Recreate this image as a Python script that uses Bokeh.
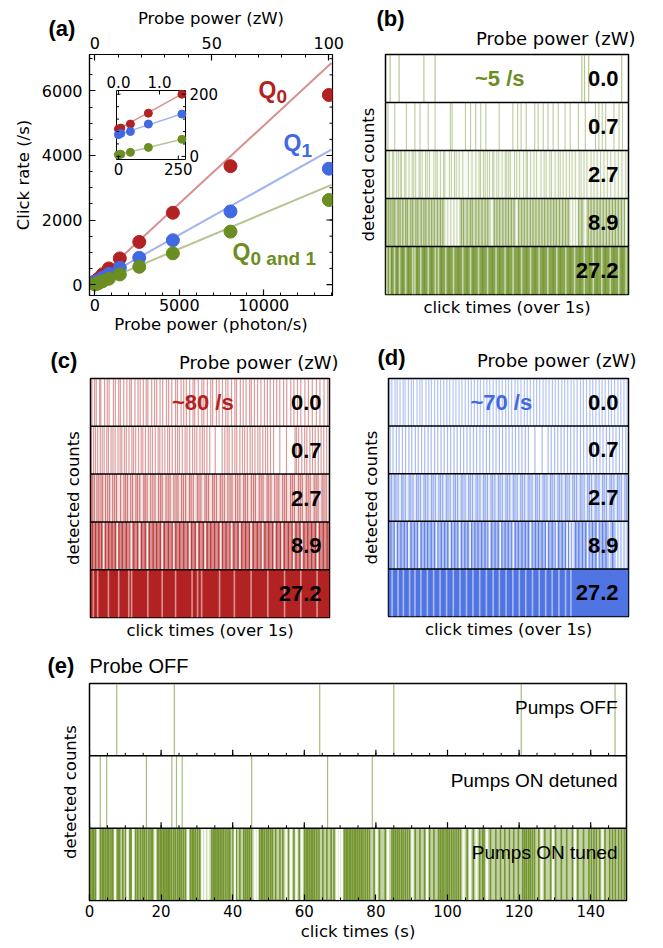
import numpy as np
from bokeh.plotting import figure
from bokeh.layouts import column, row
from bokeh.models import Range1d, LinearAxis, FixedTicker, Span, Label
from bokeh.core.properties import value
from bokeh.embed import file_html
from bokeh.resources import INLINE

RED, BLUE, GREEN = "#B22222", "#4169E1", "#6B8E23"
DJ = "DejaVu Sans"
AR = "Liberation Sans"
PAGE_MARGIN = 8  # bokeh's page template has no body margin; reproduce the reference's 8px

# ---------------- (a) click rate vs probe power ----------------
photon_rate = [0, 10, 50, 125, 265, 470, 830, 1480, 2630, 4620, 8030, 13850]
q0_rate = [88, 91, 104, 139, 200, 320, 500, 810, 1320, 2225, 3670, 5875]
q1_rate = [70, 74, 80, 104, 136, 215, 330, 520, 830, 1373, 2265, 3590]
q01_rate = [5, 7, 13, 29, 55, 105, 180, 312, 550, 967, 1640, 2620]
fit_x = [0, 14000]
q0_fit = [90, 6865]
q1_fit = [75, 4180]
q01_fit = [6, 3090]
inset_fit_x = [0, 270]
q0_inset_fit = [88, 203]
q1_inset_fit = [70, 138]
q01_inset_fit = [5, 56]
a_xticks = [0, 5000, 10000]
a_yticks = [0, 2000, 4000, 6000]
a_zw_ticks = [0, 50, 100]
inset_xticks = [0, 250]
inset_yticks = [0, 200]
inset_zw_ticks = [0.0, 1.0]

# ---------------- (b)(c)(d) click times (per-mille of 1 s) ----------------
probe_zw_labels = ["0.0", "0.7", "2.7", "8.9", "27.2"]

b_clicks = [
    [19, 56, 158, 204, 808, 819, 836, 972],
    [10, 38, 86, 121, 142, 176, 204, 267, 274, 329, 350, 371, 392, 413, 468, 524, 544, 558, 579, 614,
     628, 649, 669, 690, 711, 739, 760, 794, 822, 864, 878, 892, 906, 940, 961, 975],
    [4, 11, 17, 29, 34, 46, 53, 61, 66, 79, 84, 97, 110, 116, 124, 138, 143, 151, 165, 172, 181, 199,
     207, 213, 226, 239, 244, 263, 271, 284, 291, 303, 318, 341, 356, 372, 385, 391, 403, 410, 419, 428,
     441, 446, 458, 466, 480, 493, 499, 507, 514, 531, 540, 552, 568, 579, 584, 597, 611, 622, 640, 653,
     661, 676, 683, 698, 711, 719, 731, 744, 757, 768, 781, 797, 805, 817, 829, 846, 858, 871, 885, 899,
     913, 927, 944, 958, 973, 989],
    [5, 13, 22, 31, 38, 52, 60, 71, 83, 90, 104, 112, 125, 133, 147, 158, 166, 179, 190, 201, 214, 226,
     236, 312, 321, 336, 349, 357, 372, 384, 397, 410, 421, 448, 459, 470, 483, 495, 506, 518, 529, 548,
     560, 571, 583, 596, 607, 619, 632, 644, 655, 668, 680, 692, 703, 716, 729, 741, 752, 795, 808, 834,
     846, 858, 871, 883, 896, 909, 921, 934, 946, 958, 971, 984],
    [10, 25, 48, 70, 95, 130, 160, 190, 230, 262, 300, 335, 362, 400, 440, 470, 505, 548, 580, 615, 650,
     690, 720, 760, 800, 840, 870, 905, 940, 975],
]
b_gaps = [
    [], [], [],
    [250, 262, 275, 288, 300, 438, 540, 764, 776, 788, 822, 990],
    [6, 18, 37, 58, 83, 112, 121, 145, 176, 205, 218, 248, 280, 318, 350, 383, 420, 455, 492, 525, 560,
     597, 632, 668, 705, 742, 778, 818, 855, 890, 925, 960, 990],
]

c_clicks = [
    [6, 17, 24, 38, 43, 59, 70, 78, 96, 104, 118, 125, 139, 152, 164, 171, 186, 199, 208, 221, 233, 240,
     256, 268, 277, 291, 302, 318, 327, 340, 356, 364, 379, 390, 401, 415, 429, 436, 451, 466, 474, 489,
     503, 511, 527, 538, 552, 566, 575, 590, 604, 611, 627, 639, 651, 666, 673, 686, 699, 713, 728, 740,
     752, 766, 779, 792, 808, 821, 838, 851, 866, 880, 897, 912, 928, 945, 960, 977, 992],
    [4, 13, 21, 30, 41, 49, 57, 68, 75, 86, 94, 103, 115, 124, 131, 142, 150, 161, 173, 180, 189, 201,
     212, 219, 230, 242, 250, 259, 271, 283, 290, 300, 311, 323, 331, 342, 355, 364, 372, 384, 396, 404,
     415, 427, 436, 445, 458, 468, 476, 487, 499, 522, 551, 562, 572, 580, 593, 604, 612, 625, 636, 645,
     656, 668, 677, 688, 700, 709, 721, 732, 741, 753, 766, 792, 820, 856, 862, 871, 884, 896, 905, 918,
     929, 940, 953, 965, 976, 988],
    [3, 9, 16, 27, 35, 44, 51, 63, 72, 80, 93, 101, 109, 126, 140, 147, 155, 168, 176, 190, 197, 206,
     223, 229, 237, 252, 261, 270, 285, 293, 300, 316, 325, 333, 349, 358, 366, 381, 389, 398, 414, 421,
     430, 447, 454, 462, 479, 486, 494, 511, 518, 527, 543, 551, 560, 575, 584, 592, 607, 616, 625, 641,
     648, 657, 673, 682, 690, 706, 714, 722, 739, 746, 755, 771, 780, 788, 804, 812, 820, 837, 845, 853,
     870, 878, 886, 903, 911, 919, 936, 944, 952, 969, 977, 986],
    [8, 21, 35, 47, 62, 76, 90, 104, 119, 133, 150, 166, 181, 197, 214, 229, 246, 262, 277, 292, 309,
     326, 342, 357, 373, 390, 407, 423, 438, 455, 472, 488, 503, 519, 536, 552, 567, 584, 600, 617, 633,
     649, 665, 681, 698, 714, 730, 746, 762, 779, 795, 811, 828, 844, 860, 876, 893, 909, 925, 941, 958,
     974, 990],
    [],
]
c_gaps = [
    [], [], [],
    [55, 112, 170, 205, 238, 300, 348, 415, 446, 480, 545, 590, 625, 672, 720, 770, 802, 850, 884, 950],
    [12, 30, 75, 118, 160, 172, 240, 300, 356, 425, 448, 465, 540, 602, 672, 742, 812, 880, 948],
]

d_clicks = [
    [5, 14, 27, 36, 48, 61, 69, 83, 95, 104, 119, 131, 140, 156, 168, 179, 192, 205, 217, 230, 243, 255,
     269, 281, 294, 306, 320, 333, 345, 358, 371, 383, 397, 410, 422, 436, 449, 461, 474, 488, 500, 513,
     527, 539, 552, 566, 578, 591, 605, 617, 630, 644, 656, 669, 683, 695, 708, 722, 734, 747, 761, 773,
     786, 800, 812, 825, 839, 851, 864, 878, 890, 903, 917, 929, 942, 956, 968, 981, 994],
    [7, 19, 33, 44, 58, 71, 85, 97, 112, 124, 138, 151, 165, 178, 192, 205, 219, 232, 246, 259, 273, 286,
     300, 313, 327, 340, 354, 367, 381, 394, 408, 421, 435, 448, 462, 475, 489, 502, 516, 529, 543, 556,
     570, 583, 610, 640, 665, 678, 692, 705, 719, 732, 746, 759, 773, 786, 800, 813, 827, 840, 854, 867,
     881, 894, 908, 921, 935, 948, 962, 975, 989],
    [6, 13, 24, 31, 40, 55, 61, 70, 86, 93, 102, 117, 124, 133, 148, 155, 164, 179, 186, 195, 210, 217,
     226, 241, 248, 257, 272, 279, 288, 303, 310, 319, 334, 341, 350, 365, 372, 381, 396, 403, 412, 427,
     434, 443, 458, 465, 474, 489, 496, 505, 520, 527, 536, 551, 558, 567, 582, 589, 598, 613, 620, 629,
     644, 651, 660, 675, 682, 691, 706, 713, 722, 737, 744, 753, 768, 775, 784, 799, 806, 815, 830, 837,
     846, 861, 868, 877, 892, 899, 908, 923, 930, 939, 954, 961, 970, 985, 992],
    [10, 24, 37, 52, 66, 79, 94, 108, 121, 136, 150, 163, 178, 192, 205, 220, 234, 247, 262, 276, 289,
     304, 318, 331, 346, 360, 373, 388, 402, 415, 430, 444, 457, 472, 486, 499, 514, 528, 541, 556, 570,
     583, 598, 612, 625, 640, 654, 667, 682, 696, 709, 724, 738, 751, 766, 780, 793, 808, 822, 835, 850,
     864, 877, 892, 906, 919, 934],
    [],
]
d_gaps = [
    [], [], [],
    [30, 85, 128, 200, 255, 296, 340, 420, 466, 520, 592, 660, 700, 744, 756, 768, 830, 872, 920, 950,
     962, 975, 988],
    [15, 40, 62, 88, 110, 135, 162, 188, 215, 242, 270, 298, 325, 352, 380, 408, 436, 462, 490, 518, 545,
     572, 600, 628, 655, 682, 710, 738, 760],
]

# ---------------- (e) click times (s), probe off ----------------
e_row_labels = ["Pumps OFF", "Pumps ON detuned", "Pumps ON tuned"]
e_clicks = [
    [7.6, 23.7, 64.3, 85.0, 120.6, 146.8],
    [3.0, 4.8, 15.9, 23.0, 24.3, 25.9, 45.3, 66.5, 79.0],
    [0.3, 0.8, 1.2, 1.7, 3.1, 3.6, 4.0, 4.5, 5.0, 5.4, 6.0, 6.5, 7.6, 8.0, 8.4, 9.3, 10.1, 11.3, 11.6,
     12.9, 13.5, 14.2, 14.8, 15.3, 15.9, 16.6, 17.2, 17.6, 18.9, 19.3, 19.8, 20.2, 20.7, 21.1, 21.6, 22.0,
     22.4, 22.9, 23.5, 24.0, 24.6, 25.1, 25.6, 26.2, 26.8, 28.2, 28.7, 29.1, 29.6, 30.2, 30.8, 34.2, 34.7,
     35.1, 35.6, 36.0, 36.5, 37.0, 37.5, 38.1, 38.7, 39.2, 40.1, 41.0, 42.0, 43.1, 43.6, 44.1, 44.6, 45.2,
     47.5, 48.0, 48.4, 48.9, 49.5, 50.0, 50.6, 51.1, 52.0, 53.2, 54.0, 55.5, 57.1, 58.6, 60.1, 60.6, 61.0,
     61.5, 62.0, 62.4, 62.9, 63.5, 64.1, 65.2, 66.3, 67.5, 68.3, 71.2, 71.7, 72.1, 72.6, 73.0, 73.5, 74.0,
     74.4, 74.9, 75.4, 75.9, 76.4, 77.0, 77.6, 78.2, 79.5, 81.0, 82.6, 84.5, 85.0, 85.5, 86.0, 86.5, 87.1,
     87.6, 88.2, 88.8, 89.4, 91.0, 92.3, 93.6, 95.0, 96.2, 97.5, 98.0, 98.5, 99.0, 99.6, 100.1, 100.6,
     101.2, 101.8, 102.4, 103.0, 103.6, 105.5, 107.2, 109.0, 109.8, 110.2, 112.0, 113.5, 114.8, 116.0,
     117.3, 118.5, 119.8, 121.0, 121.5, 122.0, 122.6, 123.1, 123.7, 124.3, 125.5, 127.2, 128.8, 130.2,
     131.8, 133.3, 134.9, 136.4, 138.0, 139.5, 140.2, 140.9, 141.6, 142.5, 144.0, 145.3, 146.1, 146.9,
     147.8, 148.6, 149.4],
]
e_gaps = [
    [], [],
    [2.3, 7.2, 10.6, 12.2, 18.4, 27.5, 31.5, 32.3, 33.2, 40.6, 46.2, 46.9, 55.0, 56.3, 57.8, 59.3, 69.1,
     69.8, 70.5, 80.2, 83.4, 90.2, 94.3, 104.5, 106.3, 108.1, 111.0, 126.3, 129.5, 135.6, 143.3],
]
e_xticks = [0, 20, 40, 60, 80, 100, 120, 140]
e_window = (0, 150)


def style_axis(ax, tick_px, label_px):
    ax.major_label_text_font = DJ
    ax.major_label_text_font_size = f"{tick_px}px"
    ax.major_label_text_color = "black"
    ax.axis_label_text_font = DJ
    ax.axis_label_text_font_size = f"{label_px}px"
    ax.axis_label_text_font_style = "normal"
    ax.axis_label_text_color = "black"
    ax.major_tick_in = 6
    ax.major_tick_out = 0
    ax.minor_tick_in = 3
    ax.minor_tick_out = 0
    ax.axis_line_width = 1.2
    ax.major_tick_line_width = 1.2
    ax.minor_tick_line_width = 1.0
    ax.axis_line_color = "black"
    ax.major_tick_line_color = "black"
    ax.minor_tick_line_color = "black"


def hide_axis(ax, label, standoff, label_px=16.5):
    ax.ticker = FixedTicker(ticks=[])
    ax.major_label_text_font_size = "0px"
    ax.major_tick_line_color = None
    ax.minor_tick_line_color = None
    ax.axis_line_color = None
    ax.major_label_standoff = 0
    ax.axis_label = label
    ax.axis_label_standoff = standoff
    ax.axis_label_text_font = DJ
    ax.axis_label_text_font_size = f"{label_px}px"
    ax.axis_label_text_font_style = "normal"
    ax.axis_label_text_color = "black"


def text_label(p, x, y, text, size, font=AR, bold=False, color="black", align="left", **kw):
    p.add_layout(Label(x=x, y=y, text=text, text_font=font, text_font_size=f"{size}px",
                       text_font_style="bold" if bold else "normal", text_color=color,
                       text_align=align, text_baseline="middle", **kw))


def outer_text(p, x, y, text, size, font=AR, bold=False, align="left", dx=0, dy=0):
    # text outside the frame: a text glyph on the overlay level (not clipped to the frame)
    p.text(x=[x], y=[y], text=[text], text_font=value(font), text_font_size=value(f"{size}px"),
           text_font_style="bold" if bold else "normal", text_color="black", text_align=align,
           text_baseline="middle", x_offset=dx, y_offset=dy, level="overlay")


# ================= panel (a) =================
FW_A, FH_A = 243, 241
XR_A, YR_A = (-314, 14065), (-340, 7130)
pa = figure(frame_width=FW_A, frame_height=FH_A, min_border_left=81 + PAGE_MARGIN, min_border_right=16,
            min_border_top=45 + PAGE_MARGIN, min_border_bottom=46, x_range=Range1d(*XR_A),
            y_range=Range1d(*YR_A), output_backend="svg", toolbar_location=None, title=None)
pa.grid.visible = False
pa.outline_line_color = "black"
pa.outline_line_width = 1.2

# inset placement (pixels inside frame a) -> extra ranges
inset_xlim = (-8, 280)
inset_ylim = (-10, 212)
IN_L, IN_T, IN_W, IN_H = 27, 36, 69, 69
ixpp = (inset_xlim[1] - inset_xlim[0]) / IN_W
iypp = (inset_ylim[1] - inset_ylim[0]) / IN_H
ix0 = inset_xlim[0] - IN_L * ixpp
iytop = inset_ylim[1] + IN_T * iypp
izw_pp = 1 / 41.0
izw0 = -29 * izw_pp
pa.extra_x_ranges = {
    "zw": Range1d(-2.27, 101.6),
    "ix": Range1d(ix0, ix0 + FW_A * ixpp),
    "izw": Range1d(izw0, izw0 + FW_A * izw_pp),
}
pa.extra_y_ranges = {"iy": Range1d(iytop - FH_A * iypp, iytop)}

a_yminor = list(range(0, 7001, 500))
pa.xaxis.ticker = FixedTicker(ticks=a_xticks, minor_ticks=list(range(0, 14001, 1000)))
pa.xaxis.axis_label = "Probe power (photon/s)"
pa.yaxis.ticker = FixedTicker(ticks=a_yticks, minor_ticks=a_yminor)
pa.yaxis.axis_label = "Click rate (/s)"
style_axis(pa.xaxis[0], 16, 16.5)
style_axis(pa.yaxis[0], 16, 16.5)
pa.xaxis.major_label_standoff = 3
pa.xaxis.axis_label_standoff = 1
pa.yaxis.major_label_standoff = 7
pa.yaxis.axis_label_standoff = 6

top_ax = LinearAxis(x_range_name="zw", axis_label="Probe power (zW)",
                    ticker=FixedTicker(ticks=a_zw_ticks, minor_ticks=list(range(0, 101, 10))))
style_axis(top_ax, 16, 16.5)
top_ax.major_label_standoff = 6
top_ax.axis_label_standoff = 6
pa.add_layout(top_ax, "above")

# mirrored (unlabelled) ticks on the right edge of (a)
pa.ray(x=[XR_A[1]] * len(a_yticks), y=a_yticks, length=6, length_units="screen", angle=np.pi,
       line_color="black", line_width=1.2)
pa.ray(x=[XR_A[1]] * len(a_yminor), y=a_yminor, length=3, length_units="screen", angle=np.pi,
       line_color="black", line_width=1.0)

series = [(q0_rate, q0_fit, q0_inset_fit, RED), (q1_rate, q1_fit, q1_inset_fit, BLUE),
          (q01_rate, q01_fit, q01_inset_fit, GREEN)]
for ys, fit, _, col in series:
    pa.line(fit_x, fit, line_color=col, line_alpha=0.5, line_width=2)
for ys, fit, _, col in series:
    pa.scatter(photon_rate, ys, size=13, fill_color=col, line_color=col)

# inset
IR = dict(x_range_name="ix", y_range_name="iy")
pa.quad(left=[inset_xlim[0]], right=[inset_xlim[1]], bottom=[inset_ylim[0]], top=[inset_ylim[1]],
        fill_color="white", line_color="black", line_width=1, **IR)
in_idx = [i for i, x in enumerate(photon_rate) if x <= inset_xlim[1]]
for ys, _, ifit, col in series:
    pa.line(inset_fit_x, ifit, line_color=col, line_alpha=0.5, line_width=1.5, **IR)
for ys, _, ifit, col in series:
    pa.scatter([photon_rate[i] for i in in_idx], [ys[i] for i in in_idx], size=8,
               fill_color=col, line_color=col, **IR)
in_minor_y = list(range(40, 200, 40))
pa.ray(x=inset_xticks, y=[inset_ylim[0]] * len(inset_xticks), length=4, length_units="screen",
       angle=np.pi / 2, line_color="black", line_width=1, **IR)
pa.ray(x=inset_zw_ticks, y=[inset_ylim[1]] * 2, length=4, length_units="screen", angle=-np.pi / 2,
       line_color="black", line_width=1, x_range_name="izw", y_range_name="iy")
for yt, ln in [(inset_yticks, 4), (in_minor_y, 2.5)]:
    pa.ray(x=[inset_xlim[0]] * len(yt), y=yt, length=ln, length_units="screen", angle=0,
           line_color="black", line_width=1, **IR)
    pa.ray(x=[inset_xlim[1]] * len(yt), y=yt, length=ln, length_units="screen", angle=np.pi,
           line_color="black", line_width=1, **IR)
for xv in inset_xticks:
    pa.add_layout(Label(x=xv, y=inset_ylim[0], y_offset=-3, text=f"{xv}", text_font=DJ,
                        text_font_size="15px", text_align="center", text_baseline="top",
                        text_color="black", **IR))
for zv in inset_zw_ticks:
    pa.add_layout(Label(x=zv, y=inset_ylim[1], y_offset=3, text=f"{zv:.1f}", text_font=DJ,
                        text_font_size="15px", text_align="center", text_baseline="bottom",
                        text_color="black", x_range_name="izw", y_range_name="iy"))
for yv in inset_yticks:
    pa.add_layout(Label(x=inset_xlim[1], y=yv, x_offset=4, text=f"{yv}", text_font=DJ,
                        text_font_size="15px", text_align="left", text_baseline="middle",
                        text_color="black", **IR))

# Q labels (Q + subscript)
for qx, qy, sub, col in [(9686, 6030, "0", RED), (11165, 4386, "1", BLUE), (8147, 1023, "0 and 1", GREEN)]:
    text_label(pa, qx, qy, "Q", 23, bold=True, color=col)
    text_label(pa, qx, qy, sub, 19, bold=True, color=col, x_offset=18, y_offset=-7)

outer_text(pa, XR_A[0], YR_A[1], "(a)", 22, bold=True, dx=-41, dy=-26)


# ================= event panels (b)(c)(d) =================
def event_panel(fw, fh, bl, br, bt, bb, clicks, gaps, color, bg_alpha, click_alpha, click_w, gap_alpha,
                rate_text, letter, letter_d, title_d, lab_dx):
    n = len(clicks)
    T0, T1 = 0, 1
    p = figure(frame_width=fw, frame_height=fh, min_border_left=bl, min_border_right=br,
               min_border_top=bt, min_border_bottom=bb, x_range=Range1d(T0, T1),
               y_range=Range1d(0, n), output_backend="svg", toolbar_location=None, title=None)
    p.grid.visible = False
    p.outline_line_color = "black"
    p.outline_line_width = 1.5
    hide_axis(p.xaxis[0], "click times (over 1s)", 3)
    hide_axis(p.yaxis[0], "detected counts", 8)
    for i in range(n):
        y0, y1 = n - 1 - i, n - i
        if bg_alpha[i] > 0:
            p.quad(left=[T0], right=[T1], bottom=[y0], top=[y1], fill_color=color,
                   fill_alpha=bg_alpha[i], line_color=None)
        xs = [c / 1000 for c in clicks[i]]
        if xs:
            p.segment(x0=xs, x1=xs, y0=[y0] * len(xs), y1=[y1] * len(xs), line_color=color,
                      line_alpha=click_alpha[i], line_width=click_w[i])
        gs = [g / 1000 for g in gaps[i]]
        if gs:
            p.segment(x0=gs, x1=gs, y0=[y0] * len(gs), y1=[y1] * len(gs), line_color="white",
                      line_alpha=gap_alpha[i], line_width=1.6)
    for k in range(1, n):
        p.add_layout(Span(location=k, dimension="width", line_color="black", line_width=1.5))
    for i, lab in enumerate(probe_zw_labels):
        text_label(p, T1, n - 1 - i + 0.5, lab, 22, bold=True, align="right", x_offset=lab_dx)
    text_label(p, 0.47, n - 0.5, rate_text, 22, bold=True, color=color, align="center")
    outer_text(p, T0, n, letter, 22, bold=True, dx=letter_d[0], dy=letter_d[1])
    outer_text(p, T1, n, "Probe power (zW)", 18, font=DJ, align="right", dx=title_d[0], dy=title_d[1])
    return p


pb = event_panel(243, 240, 37, 27, 46 + PAGE_MARGIN, 46, b_clicks, b_gaps, GREEN,
                 [0, 0, 0.04, 0.3, 0.8], [0.5, 0.45, 0.4, 0.6, 0.6], [1.2, 1.1, 1.0, 1.2, 1.4],
                 [0, 0, 0, 0.9, 0.55],
                 "~5 /s", "(b)", (-9, -36), (7, -16.5), -10)
pc = event_panel(239, 239, 82 + PAGE_MARGIN, 19, 38, 33, c_clicks, c_gaps, RED,
                 [0, 0, 0.12, 0.5, 1.0], [0.45, 0.45, 0.55, 0.75, 0.8], [1.2, 1.2, 1.2, 1.3, 1.3],
                 [0, 0, 0, 0.85, 0.5],
                 "~80 /s", "(c)", (-40, -18), (9, -16.5), -8)
pd = event_panel(240, 238, 40, 27, 38, 34, d_clicks, d_gaps, BLUE,
                 [0, 0, 0.12, 0.4, 0.92], [0.4, 0.45, 0.5, 0.7, 0.8], [1.2, 1.2, 1.2, 1.3, 1.3],
                 [0, 0, 0, 0.85, 0.5],
                 "~70 /s", "(d)", (-11, -21), (8, -18), -10)

# ================= panel (e) =================
ne = len(e_clicks)
pe = figure(frame_width=537, frame_height=217, min_border_left=81 + PAGE_MARGIN, min_border_right=29,
            min_border_top=33, min_border_bottom=40, x_range=Range1d(*e_window),
            y_range=Range1d(0, ne), output_backend="svg", toolbar_location=None, title=None)
pe.grid.visible = False
pe.outline_line_color = "black"
pe.outline_line_width = 1.5
e_minor = list(range(0, 151, 5))
pe.xaxis.ticker = FixedTicker(ticks=e_xticks, minor_ticks=e_minor)
pe.xaxis.axis_label = "click times (s)"
style_axis(pe.xaxis[0], 15, 16.5)
pe.xaxis.major_label_standoff = 4
pe.xaxis.axis_label_standoff = 2
hide_axis(pe.yaxis[0], "detected counts", 10)
e_bg = [0, 0, 0.4]
e_alpha = [0.6, 0.6, 0.9]
e_width = [1.2, 1.2, 1.6]
for i in range(ne):
    y0, y1 = ne - 1 - i, ne - i
    if e_bg[i] > 0:
        pe.quad(left=[e_window[0]], right=[e_window[1]], bottom=[y0], top=[y1], fill_color=GREEN,
                fill_alpha=e_bg[i], line_color=None)
    xs = e_clicks[i]
    pe.segment(x0=xs, x1=xs, y0=[y0] * len(xs), y1=[y1] * len(xs), line_color=GREEN,
               line_alpha=e_alpha[i], line_width=e_width[i])
    gs = e_gaps[i]
    if gs:
        pe.segment(x0=gs, x1=gs, y0=[y0] * len(gs), y1=[y1] * len(gs), line_color="white",
                   line_alpha=0.9, line_width=2.2)
for k in range(1, ne):
    pe.add_layout(Span(location=k, dimension="width", line_color="black", line_width=1.5))
    pe.ray(x=e_xticks, y=[k] * len(e_xticks), length=6, length_units="screen", angle=np.pi / 2,
           line_color="black", line_width=1.2)
    pe.ray(x=e_minor, y=[k] * len(e_minor), length=3, length_units="screen", angle=np.pi / 2,
           line_color="black", line_width=1.0)
for i, lab in enumerate(e_row_labels):
    text_label(pe, e_window[1], ne - 1 - i + 0.5, lab, 19, align="right", x_offset=-9, y_offset=12)
outer_text(pe, e_window[0], ne, "(e)", 22, bold=True, dx=-42, dy=-18)
outer_text(pe, e_window[0], ne, "Probe OFF", 20, dx=0, dy=-18)

layout = column(row(pa, pb), row(pc, pd), pe)
open("out.html", "w").write(file_html(layout, INLINE))
